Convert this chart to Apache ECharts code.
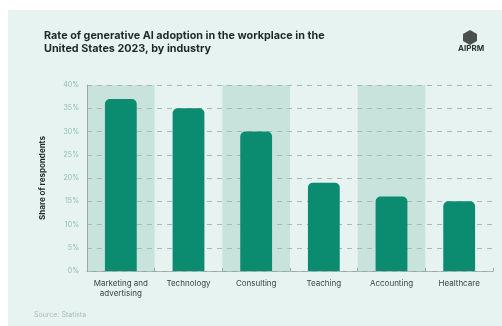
<!DOCTYPE html>
<html>
<head>
<meta charset="utf-8">
<script src="https://cdn.jsdelivr.net/npm/echarts@6/dist/echarts.min.js"></script>
<style>
  html, body { margin: 0; padding: 0; background: #ffffff; }
  #chart { width: 502px; height: 326px; }
</style>
</head>
<body>
<div id="chart"></div>
<script>
  // data
  var industries = ['Marketing and\nadvertising', 'Technology', 'Consulting', 'Teaching', 'Accounting', 'Healthcare']
  var shareValues = [37, 35, 30, 19, 16, 15]
  var yTicks = [0, 5, 10, 15, 20, 25, 30, 35, 40]

  var chart = echarts.init(document.getElementById('chart'))
  var font = 'Inter, "Liberation Sans", sans-serif'

  chart.setOption({
    backgroundColor: '#ffffff',
    animation: false,
    graphic: [
      {
        type: 'rect', silent: true, z: -10,
        shape: { x: 8, y: 10, width: 494, height: 316 },
        style: { fill: '#e6f3f0' }
      },
      {
        type: 'text', left: 44, top: 29,
        style: {
          text: 'Rate of generative AI adoption in the workplace in the\nUnited States 2023, by industry',
          font: 'bold 10.8px ' + font, fill: '#1d2a26', lineHeight: 13
        }
      },
      // small logo mark
      {
        type: 'polygon',
        shape: { points: [[470, 30], [477, 34], [477, 41], [470, 45], [463, 41], [463, 34]] },
        style: { fill: '#4a504e' }
      },
      {
        type: 'text', left: 458, top: 45,
        style: { text: 'AIPRM', font: 'bold 8px ' + font, fill: '#2b3330' }
      },
      {
        type: 'text', left: 34, top: 311,
        style: { text: 'Source: Statista', font: '7px ' + font, fill: '#a9bdb8' }
      }
    ],
    grid: { left: 87, right: 9, top: 85, bottom: 55 },
    xAxis: {
      type: 'category',
      data: industries,
      z: 0,
      axisLine: { lineStyle: { color: '#9aa9a5', width: 1 } },
      axisTick: { show: true, inside: true, length: 3, interval: 0, lineStyle: { color: '#9aa9a5' } },
      axisLabel: { color: '#3b4441', fontSize: 8, fontFamily: font, margin: 8, lineHeight: 10, interval: 0 },
      splitArea: { show: true, interval: 0, areaStyle: { color: ['#c8e3dc', 'rgba(0,0,0,0)'] } }
    },
    yAxis: {
      type: 'value',
      z: 1,
      min: yTicks[0],
      max: yTicks[yTicks.length - 1],
      interval: 5,
      name: 'Share of respondents',
      nameLocation: 'middle',
      nameGap: 40,
      nameTextStyle: { color: '#1d2a26', fontSize: 8, fontWeight: 'bold', fontFamily: font },
      axisLine: { show: true, lineStyle: { color: '#9aa9a5' } },
      axisTick: { show: false },
      axisLabel: { color: '#8fbcb1', fontSize: 7, fontFamily: font, margin: 8, formatter: '{value}%' },
      splitLine: { lineStyle: { color: '#a9b8b4', type: [5, 5], width: 1 } }
    },
    series: [{
      type: 'bar',
      data: shareValues,
      barWidth: '47%',
      itemStyle: { color: '#0b8b70', borderRadius: [5, 5, 0, 0] }
    }]
  })
</script>
</body>
</html>
